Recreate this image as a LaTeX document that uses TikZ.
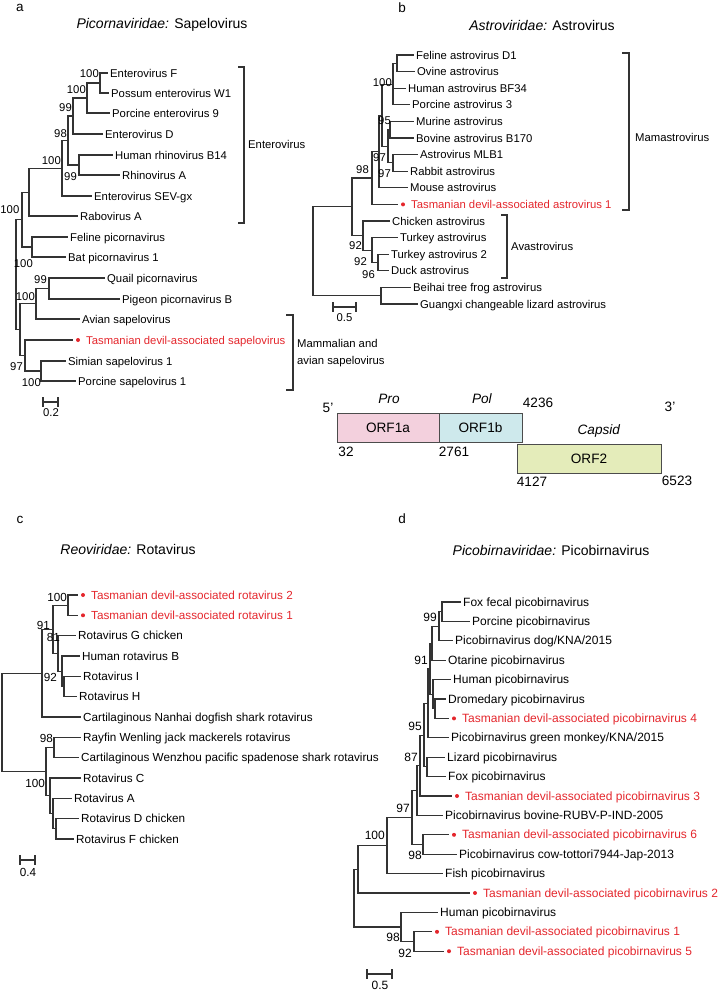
\documentclass[tikz,border=0pt]{standalone}
\usepackage{fontspec}
\setmainfont{Liberation Sans}
\usetikzlibrary{calc}

\definecolor{devilred}{RGB}{228,38,44}
\definecolor{orfpink}{RGB}{243,208,221}
\definecolor{orfcyan}{RGB}{206,233,236}
\definecolor{orfgreen}{RGB}{228,236,186}

\tikzset{
  branch/.style={line width=1.1bp, draw=black!80, line cap=rect},
  taxon/.style={anchor=west, inner sep=0pt, text height=8.2bp, text depth=0bp},
  boot/.style={anchor=east, inner sep=0pt, text height=8.2bp, text depth=0bp},
  orf/.style={draw=black!70, line width=1bp},
}
% tip: name, x of node, x of text, y, label
\newcommand{\tip}[5]{\draw[branch] (#2,#4) -- ({#3-3},#4); \node[taxon] (#1) at (#3,#4) {#5};}
% devil tip: name, x of node, x of dot, y, label
\newcommand{\devtip}[5]{\draw[branch] (#2,#4) -- ({#3-6},#4); \fill[devilred] (#3,#4) circle (2);
  \node[taxon, text=devilred] (#1) at ({#3+8},#4) {#5};}
% clade: x, top, bottom, x of parent
\newcommand{\clade}[4]{\draw[branch] (#4,{(#2+#3)/2}) -- (#1,{(#2+#3)/2}) (#1,#2) -- (#1,#3);}

\begin{document}
\begin{tikzpicture}[x=1bp, y=-1bp, font=\fontsize{11.3bp}{13bp}\selectfont]
			\useasboundingbox (0,0) rectangle (720,990);
			%%%%% A %%%%%
			\node[font=\fontsize{13.5bp}{15bp}\selectfont] (lab-a) at (20,8) {a};
			\node[font=\fontsize{14bp}{16bp}\selectfont] (title-a) at (162,25) {\textit{Picornaviridae:} Sapelovirus};
			
			\tip{a-entF}{100}{110}{73}{Enterovirus F}
			\tip{a-possum}{100}{111}{93}{Possum enterovirus W1}
			\tip{a-porc9}{87}{112}{113}{Porcine enterovirus 9}
			\tip{a-entD}{73}{105}{134}{Enterovirus D}
			\tip{a-hrv}{79}{115}{155}{Human rhinovirus B14}
			\tip{a-rhA}{79}{122}{175}{Rhinovirus A}
			\tip{a-sev}{62}{94}{196}{Enterovirus SEV-gx}
			\tip{a-rabo}{29}{80}{216}{Rabovirus A}
			\tip{a-feline}{32}{70}{237}{Feline picornavirus}
			\tip{a-bat}{32}{68}{257}{Bat picornavirus 1}
			\tip{a-quail}{49}{107}{278}{Quail picornavirus}
			\tip{a-pigeon}{49}{122}{299}{Pigeon picornavirus B}
			\tip{a-avian}{36}{82}{319}{Avian sapelovirus}
			\devtip{a-devil}{25}{78}{340}{Tasmanian devil-associated sapelovirus}
			\tip{a-simian}{41}{68}{361}{Simian sapelovirus 1}
			\tip{a-porcsap}{41}{78}{381}{Porcine sapelovirus 1}
			
			\clade{100}{73}{93}{87}
			\clade{87}{83}{113}{73}
			\clade{73}{98}{134}{68}
			\clade{79}{155}{175}{68}
			\clade{68}{116}{165}{62}
			\clade{62}{140.5}{196}{29}
			\clade{29}{168.25}{216}{22}
			\clade{32}{237}{257}{22}
			\clade{22}{192.1}{247}{16}
			\clade{49}{278}{299}{36}
			\clade{36}{288.5}{319}{20}
			\clade{41}{361}{381}{25}
			\clade{25}{340}{371}{20}
			\clade{20}{303.75}{355.5}{16}
			\draw[branch] (16,219.6) -- (16,329.6);
			
			\node[boot] (bs-a1) at (99,73) {100};
			\node[boot] (bs-a2) at (86,89) {100};
			\node[boot] (bs-a3) at (72,107) {99};
			\node[boot] (bs-a4) at (67,133) {98};
			\node[boot] (bs-a5) at (61,160) {100};
			\node[boot] (bs-a6) at (77,176) {99};
			\node[boot] (bs-a7) at (19.5,209) {100};
			\node[boot] (bs-a8) at (33,263) {100};
			\node[boot] (bs-a9) at (47,279) {99};
			\node[boot] (bs-a10) at (35,296) {100};
			\node[boot] (bs-a11) at (23,366) {97};
			\node[boot] (bs-a12) at (41,382) {100};
			
			\draw[branch] (239,67) -- (244,67) -- (244,223) -- (239,223);
			\node[taxon] (grp-entero) at (248,144) {Enterovirus};
			\draw[branch] (287,315) -- (293,315) -- (293,390) -- (287,390);
			\node[taxon] (grp-mamm) at (297,343) {Mammalian and};
			\node[taxon] (grp-avian) at (297,360) {avian sapelovirus};
			
			\draw[branch] (43,398) -- (43,406) (43,402) -- (58,402) (58,398) -- (58,406);
			\node (scale-a) at (51,413) {0.2};
			
			%%%%% B %%%%%
			\node[font=\fontsize{13.5bp}{15bp}\selectfont] (lab-b) at (402,8) {b};
			\node[font=\fontsize{14bp}{16bp}\selectfont] (title-b) at (542,25) {\textit{Astroviridae:} Astrovirus};
			
			\tip{b-feline}{397}{416}{55}{Feline astrovirus D1}
			\tip{b-ovine}{397}{417}{71.6}{Ovine astrovirus}
			\tip{b-human}{393}{408}{88.2}{Human astrovirus BF34}
			\tip{b-porcine}{393}{412}{104.8}{Porcine astrovirus 3}
			\tip{b-murine}{390}{416}{121.4}{Murine astrovirus}
			\tip{b-bovine}{390}{416}{138}{Bovine astrovirus B170}
			\tip{b-mlb}{393}{420}{154.6}{Astrovirus MLB1}
			\tip{b-rabbit}{393}{410}{171.2}{Rabbit astrovirus}
			\tip{b-mouse}{379}{410}{187.8}{Mouse astrovirus}
			\devtip{b-devil}{372}{403}{204.4}{Tasmanian devil-associated astrovirus 1}
			\tip{b-chicken}{363}{392}{221}{Chicken astrovirus}
			\tip{b-turkey}{372}{400}{237.6}{Turkey astrovirus}
			\tip{b-turkey2}{378}{391}{254.2}{Turkey astrovirus 2}
			\tip{b-duck}{378}{391}{270.8}{Duck astrovirus}
			\tip{b-frog}{381}{413}{287.4}{Beihai tree frog astrovirus}
			\tip{b-lizard}{381}{420}{304}{Guangxi changeable lizard astrovirus}
			
			\clade{397}{55}{71.6}{393}
			\clade{393}{63.3}{104.8}{382}
			\clade{390}{121.4}{138}{388}
			\clade{393}{154.6}{171.2}{388}
			\clade{388}{129.7}{162.9}{382}
			\clade{382}{84.05}{146.3}{379}
			\clade{379}{115.2}{187.8}{372}
			\clade{372}{151.5}{204.4}{352}
			\clade{378}{254.2}{270.8}{372}
			\clade{372}{237.6}{262.5}{363}
			\clade{363}{221}{250}{352}
			\clade{352}{178}{235.5}{313}
			\clade{381}{287.4}{304}{313}
			\draw[branch] (313,206.7) -- (313,295.7);
			
			\node[boot] (bs-b1) at (392,82) {100};
			\node[boot] (bs-b2) at (391,120) {95};
			\node[boot] (bs-b3) at (386,157) {97};
			\node[boot] (bs-b4) at (391,173) {97};
			\node[boot] (bs-b5) at (369,169) {98};
			\node[boot] (bs-b6) at (362,245) {92};
			\node[boot] (bs-b7) at (367,261) {92};
			\node[boot] (bs-b8) at (375,274) {96};
			
			\draw[branch] (623,53) -- (629,53) -- (629,210) -- (623,210);
			\node[taxon] (grp-mamast) at (635,137) {Mamastrovirus};
			\draw[branch] (502,215) -- (507,215) -- (507,278) -- (502,278);
			\node[taxon] (grp-avast) at (511,246) {Avastrovirus};
			
			\draw[branch] (333,303) -- (333,311) (333,307) -- (356,307) (356,303) -- (356,311);
			\node (scale-b) at (344.5,318) {0.5};
			
			%%%%% GENOME %%%%%
			\begin{scope}[font=\fontsize{13.6bp}{15bp}\selectfont]
			\draw[orf, fill=orfpink] (337,413) rectangle (439,442);
			\draw[orf, fill=orfcyan] (439,413) rectangle (522,442);
			\draw[orf, fill=orfgreen] (517,444) rectangle (661,473);
			\node (orf1a) at (388,427.5) {ORF1a};
			\node (orf1b) at (480.5,427.5) {ORF1b};
			\node (orf2) at (589,458.5) {ORF2};
			\node (pro) at (389,399) {\textit{Pro}};
			\node (pol) at (482,399) {\textit{Pol}};
			\node (capsid) at (599,431) {\textit{Capsid}};
			\node (end5) at (328,408) {5’};
			\node (end3) at (670,407) {3’};
			\node (p4236) at (538,403) {4236};
			\node (p2761) at (454,452) {2761};
			\node (p32) at (346,452) {32};
			\node (p4127) at (532,482) {4127};
			\node (p6523) at (677,481) {6523};
			\end{scope}
			
			%%%%% C %%%%%
			\node[font=\fontsize{13.5bp}{15bp}\selectfont] (lab-c) at (20,520) {c};
			\node[font=\fontsize{14bp}{16bp}\selectfont] (title-c) at (128,549) {\textit{Reoviridae:} Rotavirus};
			\begin{scope}[font=\fontsize{11.7bp}{13bp}\selectfont]
			\devtip{c-devil2}{68}{83}{595}{Tasmanian devil-associated rotavirus 2}
			\devtip{c-devil1}{68}{83}{615.3}{Tasmanian devil-associated rotavirus 1}
			\tip{c-rotG}{58}{78}{635.7}{Rotavirus G chicken}
			\tip{c-humB}{62}{82}{656}{Human rotavirus B}
			\tip{c-rotI}{64}{83}{676.3}{Rotavirus I}
			\tip{c-rotH}{64}{79}{696.7}{Rotavirus H}
			\tip{c-nanhai}{42}{83}{717}{Cartilaginous Nanhai dogfish shark rotavirus}
			\tip{c-rayfin}{54}{83}{737.3}{Rayfin Wenling jack mackerels rotavirus}
			\tip{c-wenzhou}{54}{81}{757.7}{Cartilaginous Wenzhou pacific spadenose shark rotavirus}
			\tip{c-rotC}{50}{83}{778}{Rotavirus C}
			\tip{c-rotA}{53}{74}{798.3}{Rotavirus A}
			\tip{c-rotD}{56}{81}{818.7}{Rotavirus D chicken}
			\tip{c-rotF}{56}{76}{839}{Rotavirus F chicken}
			
			\clade{68}{595}{615.3}{53}
			\clade{64}{676.3}{696.7}{62}
			\clade{62}{656}{686.5}{58}
			\clade{58}{635.7}{671.25}{53}
			\clade{53}{605.2}{653.5}{42}
			\clade{42}{629.3}{717}{2}
			\clade{54}{737.3}{757.7}{46}
			\clade{56}{818.7}{839}{53}
			\clade{53}{798.3}{828.8}{50}
			\clade{50}{778}{813.6}{46}
			\clade{46}{747.5}{795.8}{2}
			\draw[branch] (2,673.2) -- (2,771.6);
			
			\node[boot] (bs-c1) at (67,597) {100};
			\node[boot] (bs-c2) at (50,625) {91};
			\node[boot] (bs-c3) at (60,637) {81};
			\node[boot] (bs-c4) at (57,677) {92};
			\node[boot] (bs-c5) at (53,738) {98};
			\node[boot] (bs-c6) at (45,783) {100};
			
			\draw[branch] (20,856) -- (20,864) (20,860) -- (35,860) (35,856) -- (35,864);
			\node (scale-c) at (28,872) {0.4};
			\end{scope}
			
			%%%%% D %%%%%
			\node[font=\fontsize{13.5bp}{15bp}\selectfont] (lab-d) at (402,519) {d};
			\node[font=\fontsize{14bp}{16bp}\selectfont] (title-d) at (551,550) {\textit{Picobirnaviridae:} Picobirnavirus};
			\begin{scope}[font=\fontsize{12bp}{14bp}\selectfont]
			\tip{d-foxfecal}{442}{463}{602}{Fox fecal picobirnavirus}
			\tip{d-porcine}{442}{472}{621.4}{Porcine picobirnavirus}
			\tip{d-dog}{439}{455}{640.8}{Picobirnavirus dog/KNA/2015}
			\tip{d-otarine}{432}{448}{660.2}{Otarine picobirnavirus}
			\tip{d-human}{433}{453}{679.6}{Human picobirnavirus}
			\tip{d-dromedary}{435}{448}{699}{Dromedary picobirnavirus}
			\devtip{d-devil4}{435}{454}{718.4}{Tasmanian devil-associated picobirnavirus 4}
			\tip{d-monkey}{428}{451}{737.8}{Picobirnavirus green monkey/KNA/2015}
			\tip{d-lizard}{427}{447}{757.2}{Lizard picobirnavirus}
			\tip{d-fox}{427}{448}{776.6}{Fox picobirnavirus}
			\devtip{d-devil3}{420}{457}{796}{Tasmanian devil-associated picobirnavirus 3}
			\tip{d-bovine}{417}{445}{815.4}{Picobirnavirus bovine-RUBV-P-IND-2005}
			\devtip{d-devil6}{423}{454}{834.8}{Tasmanian devil-associated picobirnavirus 6}
			\tip{d-cow}{423}{459}{854.2}{Picobirnavirus cow-tottori7944-Jap-2013}
			\tip{d-fish}{387}{445}{873.6}{Fish picobirnavirus}
			\devtip{d-devil2}{358}{475}{893}{Tasmanian devil-associated picobirnavirus 2}
			\tip{d-human2}{401}{440}{912.4}{Human picobirnavirus}
			\devtip{d-devil1}{414}{437}{931.8}{Tasmanian devil-associated picobirnavirus 1}
			\devtip{d-devil5}{414}{449}{951.2}{Tasmanian devil-associated picobirnavirus 5}
			
			\clade{442}{602}{621.4}{439}
			\clade{439}{611.7}{640.8}{432}
			\clade{432}{626.25}{660.2}{430}
			\clade{435}{699}{718.4}{433}
			\clade{433}{679.6}{708.7}{430}
			\clade{430}{643.2}{694.15}{428}
			\clade{428}{668.7}{737.8}{424}
			\clade{427}{757.2}{776.6}{424}
			\clade{424}{703.25}{766.9}{420}
			\clade{420}{735.1}{796}{417}
			\clade{417}{765.5}{815.4}{412}
			\clade{423}{834.8}{854.2}{412}
			\clade{412}{790.5}{844.5}{387}
			\clade{387}{817.5}{873.6}{358}
			\clade{414}{931.8}{951.2}{401}
			\clade{401}{912.4}{941.5}{354}
			\clade{358}{845.5}{893}{354}
			\draw[branch] (354,869.3) -- (354,927);
			
			\node[boot] (bs-d1) at (437,617) {99};
			\node[boot] (bs-d2) at (428,660) {91};
			\node[boot] (bs-d3) at (422,726) {95};
			\node[boot] (bs-d4) at (418,757) {87};
			\node[boot] (bs-d5) at (410,808) {97};
			\node[boot] (bs-d6) at (385,835) {100};
			\node[boot] (bs-d7) at (422,855) {98};
			\node[boot] (bs-d8) at (400,937) {98};
			\node[boot] (bs-d9) at (412,953) {92};
			
			\draw[branch] (367,970) -- (367,978) (367,974) -- (392,974) (392,970) -- (392,978);
			\node (scale-d) at (380,985) {0.5};
			\end{scope}
			%%%%% END %%%%%
		\end{tikzpicture}
\end{document}
